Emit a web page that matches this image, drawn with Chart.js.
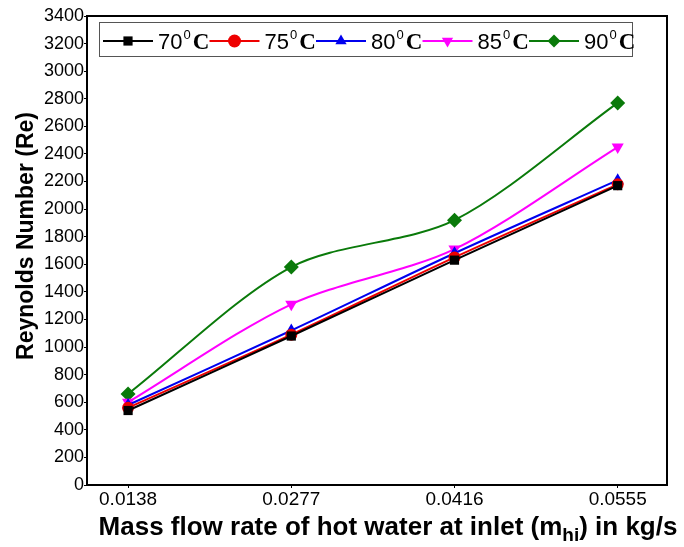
<!DOCTYPE html>
<html><head><meta charset="utf-8">
<script src="https://cdn.jsdelivr.net/npm/chart.js@4.4.0/dist/chart.umd.min.js"></script>
<style>html,body{margin:0;padding:0;background:#fff}#wrap{width:684px;height:547px}</style>
</head><body><div id="wrap"><canvas id="c" width="684" height="547"></canvas></div>
<script>
const xValues = [0.0138, 0.0277, 0.0416, 0.0555];
const xLabels = ['0.0138', '0.0277', '0.0416', '0.0555'];
const seriesNames = ['70', '75', '80', '85', '90'];
const re70 = [540, 1080, 1630, 2170];
const re75 = [560, 1090, 1650, 2180];
const re80 = [580, 1120, 1680, 2210];
const re85 = [600, 1310, 1710, 2450];
const re90 = [660, 1580, 1920, 2770];
const yTicks = [0,200,400,600,800,1000,1200,1400,1600,1800,2000,2200,2400,2600,2800,3000,3200,3400];

const colors = ['#000000', '#ee0000', '#0000ee', '#ff00ff', '#0a7a0a'];
const styles = ['rect', 'circle', 'triangle', 'triangle', 'rectRot'];
const rots = [0, 0, 0, 180, 0];
const radii = [6.5, 6, 7, 7, 7.5];
const allData = [re70, re75, re80, re85, re90];

const datasets = allData.map((arr, i) => ({
  label: seriesNames[i] + '\u2070 C',
  data: arr.map((v, j) => ({x: xValues[j], y: v})),
  borderColor: colors[i],
  backgroundColor: colors[i],
  borderWidth: 2,
  pointStyle: styles[i],
  pointRotation: rots[i],
  pointRadius: radii[i],
  pointBorderWidth: 0,
  tension: 0.3,
  fill: false
}));

const framePlugin = {
  id: 'frame',
  afterDatasetsDraw(chart) {
    const {ctx, chartArea: a} = chart;
    ctx.save();
    ctx.strokeStyle = '#000'; ctx.lineWidth = 2;
    ctx.strokeRect(a.left, a.top, a.right - a.left, a.bottom - a.top);
    // legend
    const bx = a.left + 12, by = 22, bw = 533, bh = 34;
    ctx.fillStyle = '#fff'; ctx.fillRect(bx, by, bw, bh);
    ctx.strokeStyle = '#555'; ctx.lineWidth = 1;
    ctx.strokeRect(bx + 0.5, by + 0.5, bw, bh);
    const cy = by + bh / 2 + 2;
    chart.data.datasets.forEach((ds, i) => {
      const x0 = bx + 4 + i * 106.5;
      ctx.strokeStyle = ds.borderColor; ctx.lineWidth = 2;
      ctx.beginPath(); ctx.moveTo(x0, cy); ctx.lineTo(x0 + 50, cy); ctx.stroke();
      ctx.fillStyle = ds.backgroundColor;
      Chart.helpers.drawPoint(ctx, {pointStyle: ds.pointStyle, rotation: ds.pointRotation, radius: 6.5, borderWidth: 0}, x0 + 25, cy);
      ctx.fillStyle = '#000';
      ctx.textBaseline = 'alphabetic'; ctx.textAlign = 'left';
      let tx = x0 + 55;
      ctx.font = '22px "Liberation Sans", Arial, sans-serif';
      ctx.fillText(seriesNames[i], tx, cy + 8);
      tx += ctx.measureText(seriesNames[i]).width + 1;
      ctx.font = '13px "Liberation Sans", Arial, sans-serif';
      ctx.fillText('0', tx, cy - 2);
      tx += ctx.measureText('0').width + 2;
      ctx.font = 'bold 23px "Liberation Serif", "Times New Roman", serif';
      ctx.fillText('C', tx, cy + 8);
    });
    // y title
    ctx.fillStyle = '#000';
    ctx.save();
    ctx.translate(27, 236);
    ctx.rotate(-Math.PI / 2);
    ctx.font = 'bold 23px "Liberation Sans", Arial, sans-serif';
    ctx.textAlign = 'center'; ctx.textBaseline = 'middle';
    ctx.fillText('Reynolds Number (Re)', 0, 0);
    ctx.restore();
    // x title with subscript
    const big = 'bold 26px "Liberation Sans", Arial, sans-serif';
    const small = 'bold 19px "Liberation Sans", Arial, sans-serif';
    const p1 = 'Mass flow rate of hot water at inlet (m', p2 = 'hi', p3 = ') in kg/s';
    ctx.font = big; const w1 = ctx.measureText(p1).width, w3 = ctx.measureText(p3).width;
    ctx.font = small; const w2 = ctx.measureText(p2).width;
    let sx = 388 - (w1 + w2 + w3) / 2;
    const base = 535;
    ctx.textAlign = 'left'; ctx.textBaseline = 'alphabetic';
    ctx.font = big; ctx.fillText(p1, sx, base); sx += w1;
    ctx.font = small; ctx.fillText(p2, sx, base + 6); sx += w2;
    ctx.font = big; ctx.fillText(p3, sx, base);
    ctx.restore();
  }
};

new Chart(document.getElementById('c'), {
  type: 'line',
  data: {datasets},
  plugins: [framePlugin],
  options: {
    responsive: false,
    animation: false,
    layout: {padding: {top: 16, right: 17, left: 0, bottom: 0}},
    plugins: {legend: {display: false}, tooltip: {enabled: false}},
    scales: {
      x: {
        type: 'linear', min: 0.0103, max: 0.0597,
        afterBuildTicks: s => { s.ticks = xValues.map(v => ({value: v})); },
        afterFit: s => { s.height = 62; },
        ticks: {
          color: '#000', font: {family: '"Liberation Sans", Arial, sans-serif', size: 19}, padding: 0,
          callback: (v) => { const k = xValues.indexOf(v); return k >= 0 ? xLabels[k] : ''; }
        },
        grid: {drawOnChartArea: false, drawTicks: true, tickLength: 3, color: '#000'},
        border: {color: '#000', width: 2}
      },
      y: {
        min: 0, max: 3400,
        afterBuildTicks: s => { s.ticks = yTicks.map(v => ({value: v})); },
        afterFit: s => { s.width = 87; },
        ticks: {color: '#000', font: {family: '"Liberation Sans", Arial, sans-serif', size: 18}, padding: 0,
          callback: v => String(v)},
        grid: {drawOnChartArea: false, drawTicks: true, tickLength: 3, color: '#000'},
        border: {color: '#000', width: 2}
      }
    }
  }
});
</script></body></html>
